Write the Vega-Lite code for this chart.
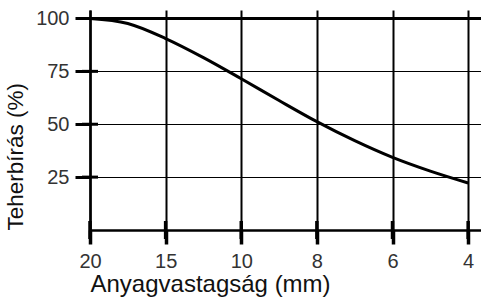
{
  "$schema": "https://vega.github.io/schema/vega-lite/v6.json",
  "width": 391,
  "height": 220,
  "autosize": "none",
  "padding": {"left": 90, "top": 10, "right": 0, "bottom": 72},
  "background": "white",
  "config": {"view": {"stroke": null}, "font": "Liberation Sans"},
  "layer": [
    {
      "data": {
        "values": [
          {"pos": 0, "load": 100},
          {"pos": 0.5, "load": 97.6},
          {"pos": 1, "load": 90.5},
          {"pos": 1.5, "load": 81.5},
          {"pos": 2, "load": 71.5},
          {"pos": 2.5, "load": 61.2},
          {"pos": 3, "load": 51.2},
          {"pos": 3.5, "load": 42.2},
          {"pos": 4, "load": 34.3},
          {"pos": 4.5, "load": 27.8},
          {"pos": 5, "load": 22.2}
        ]
      },
      "mark": {"type": "line", "interpolate": "monotone", "color": "black", "strokeWidth": 3},
      "encoding": {
        "x": {
          "field": "pos",
          "type": "quantitative",
          "scale": {"domain": [0, 5.17], "nice": false, "zero": false},
          "axis": {
            "values": [0, 1, 2, 3, 4, 5],
            "labelExpr": "['20','15','10','8','6','4'][datum.value]",
            "title": "Anyagvastagság (mm)",
            "titleAnchor": "start",
            "grid": true,
            "gridColor": "black",
            "gridWidth": 2,
            "gridOpacity": 1,
            "domainColor": "black",
            "domainWidth": 2.5,
            "tickColor": "black",
            "tickWidth": 3.5,
            "tickSize": 14,
            "labelFontSize": 20,
            "labelColor": "#333",
            "labelPadding": 7,
            "labelFlush": false,
            "titleFontSize": 24,
            "titleFontWeight": "normal",
            "titleColor": "#111",
            "titlePadding": 1
          }
        },
        "y": {
          "field": "load",
          "type": "quantitative",
          "scale": {"domain": [0, 104], "nice": false},
          "axis": {
            "values": [25, 50, 75, 100],
            "title": "Teherbírás (%)",
            "titleAnchor": "start",
            "grid": true,
            "gridColor": "black",
            "gridOpacity": 1,
            "gridWidth": {"condition": {"test": "datum.value === 100", "value": 3}, "value": 1},
            "domainColor": "black",
            "domainWidth": 2.5,
            "tickColor": "black",
            "tickWidth": 3,
            "tickSize": 15,
            "labelFontSize": 20,
            "labelColor": "#333",
            "labelPadding": 6,
            "titleFontSize": 22.5,
            "titleFontWeight": "normal",
            "titleColor": "#111",
            "titlePadding": 8
          }
        }
      }
    },
    {
      "data": {"values": [{"load": 25}, {"load": 50}, {"load": 75}]},
      "mark": {"type": "tick", "orient": "horizontal", "color": "black", "size": 16, "thickness": 3, "opacity": 1},
      "encoding": {
        "x": {"datum": 0, "type": "quantitative"},
        "y": {"field": "load", "type": "quantitative"}
      }
    },
    {
      "data": {"values": [{"pos": 0}, {"pos": 1}, {"pos": 2}, {"pos": 3}, {"pos": 4}, {"pos": 5}]},
      "mark": {"type": "tick", "orient": "vertical", "color": "black", "size": 18, "thickness": 3.5, "opacity": 1},
      "encoding": {
        "x": {"field": "pos", "type": "quantitative"},
        "y": {"datum": 0, "type": "quantitative"}
      }
    }
  ]
}
